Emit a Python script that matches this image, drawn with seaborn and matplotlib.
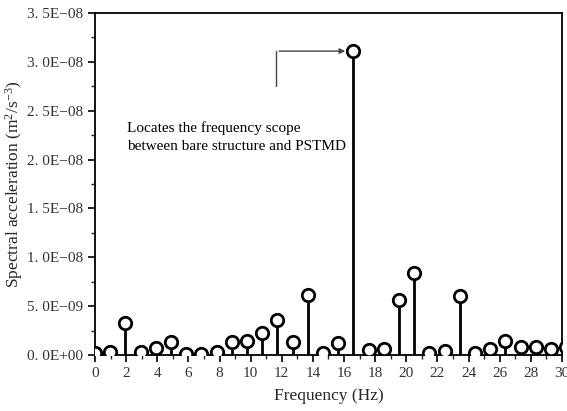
import numpy as np
import pandas as pd
import matplotlib
matplotlib.use("Agg")
import matplotlib.pyplot as plt
import seaborn as sns
from matplotlib.ticker import MultipleLocator, FuncFormatter

# Data (frequency resolution 250/256 Hz)
bin_index = list(range(32))
frequency = [k * 250 / 256 for k in bin_index]
amplitude = [0.25e-9, 0.27e-9, 3.27e-9, 0.28e-9, 0.75e-9, 1.3e-9, 0.1e-9, 0.07e-9,
             0.28e-9, 1.33e-9, 1.4e-9, 2.2e-9, 3.6e-9, 1.36e-9, 6.1e-9, 0.24e-9,
             1.2e-9, 3.11e-8, 0.5e-9, 0.58e-9, 5.65e-9, 8.36e-9, 0.2e-9, 0.4e-9,
             6.07e-9, 0.17e-9, 0.6e-9, 1.46e-9, 0.85e-9, 0.85e-9, 0.6e-9, 0.85e-9]

x_ticks = list(range(0, 31, 2))
annotation_text = "Locates the frequency scope\nbetween bare structure and PSTMD"

df = pd.DataFrame({"Frequency": frequency, "Amplitude": amplitude})

sns.set_theme(style="white")
plt.rcParams["font.family"] = ["Liberation Serif", "DejaVu Serif"]
plt.rcParams["mathtext.fontset"] = "custom"
plt.rcParams["mathtext.rm"] = "Liberation Serif"
plt.rcParams["mathtext.it"] = "Liberation Serif:italic"

fig = plt.figure(figsize=(5.67, 4.11), dpi=100)
ax = fig.add_axes([0.1675, 0.1363, 0.8237, 0.8321])

ax.vlines(df["Frequency"], 0, df["Amplitude"], color="black", linewidth=2.0, zorder=2)
sns.scatterplot(data=df, x="Frequency", y="Amplitude", ax=ax, marker="o", s=80,
                facecolor="white", edgecolor="black", linewidth=2.0, zorder=3,
                legend=False, clip_on=True)

ax.set_xlim(0, 30)
ax.set_ylim(0, 3.5e-8)
ax.xaxis.set_major_locator(MultipleLocator(2))
ax.xaxis.set_minor_locator(MultipleLocator(1))
ax.yaxis.set_major_locator(MultipleLocator(5e-9))
ax.yaxis.set_minor_locator(MultipleLocator(2.5e-9))


def sci_fmt(v, pos):
    if v == 0:
        return "0. 0E+00"
    e = int(np.floor(np.log10(abs(v)) + 1e-9))
    m = v / 10 ** e
    sign = "+" if e >= 0 else "\u2212"
    return f"{m:.1f}".replace(".", ". ") + f"E{sign}{abs(e):02d}"


ax.yaxis.set_major_formatter(FuncFormatter(sci_fmt))
ax.set_xticks(x_ticks)

ax.tick_params(axis="both", which="major", direction="out", length=5, width=1.2,
               labelsize=11, color="black", labelcolor="#333333",
               bottom=True, left=True, top=False, right=False)
ax.tick_params(axis="both", which="minor", direction="out", length=3, width=1.0,
               bottom=True, left=True, top=False, right=False)

for s in ax.spines.values():
    s.set_color("black")
    s.set_linewidth(1.3)

ax.set_xlabel("Frequency (Hz)", fontsize=12.5, labelpad=6)
ax.set_ylabel("Spectral acceleration (m$^{2}$/s$^{-3}$)", fontsize=12.5)
ax.yaxis.set_label_coords(-0.15, 0.5)

ax.text(2.05, 2.39e-8, annotation_text, fontsize=11, ha="left", va="top",
        linespacing=1.5, color="black")
ax.annotate("", xy=(16.25, amplitude[17]), xytext=(11.65, amplitude[17]),
            arrowprops=dict(arrowstyle="-|>", color="#444444", lw=1.0, mutation_scale=8))
ax.plot([11.65, 11.65], [amplitude[17], 2.75e-8], color="#444444", lw=1.0)

fig.savefig("out.png", dpi=100)
